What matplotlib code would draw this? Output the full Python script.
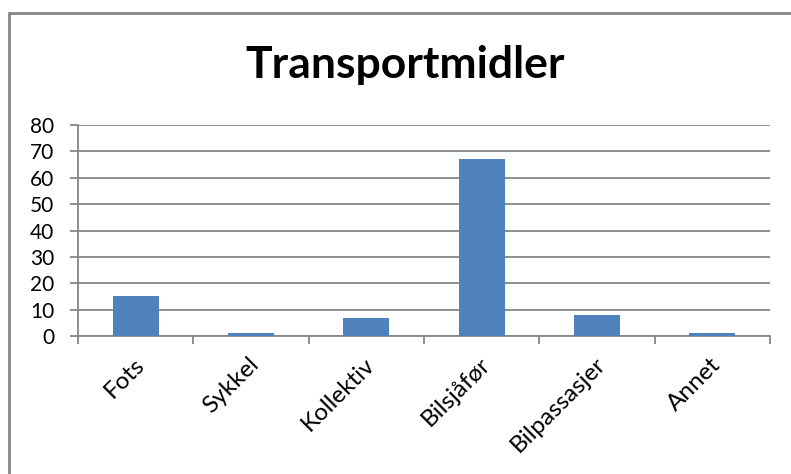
import numpy as np
import matplotlib.pyplot as plt
import matplotlib.transforms as mtransforms
from matplotlib.patches import Rectangle

# Transportmidler - values
kategorier = ["Fots", "Sykkel", "Kollektiv", "Bilsjåfør", "Bilpassasjer", "Annet"]
verdier = [15, 1, 7, 67, 8, 1]
y_ticks = [0, 10, 20, 30, 40, 50, 60, 70, 80]

plt.rcParams["font.family"] = ["Lato", "DejaVu Sans"]
grey = "#868686"

fig = plt.figure(figsize=(7.91, 4.74), dpi=100)
ax = fig.add_axes([0.0986, 0.2911, 0.8749, 0.4452])

x = np.arange(len(kategorier))
ax.bar(x, verdier, width=0.4, color="#4F81BD", zorder=3)

ax.set_xlim(-0.5, len(kategorier) - 0.5)
ax.set_ylim(0, 80)
ax.set_yticks(y_ticks)
ax.set_yticklabels([str(v) for v in y_ticks], fontsize=15)
ax.yaxis.grid(True, color=grey, linewidth=1.3, zorder=0)

# ticks between categories, labels at centre
ax.set_xticks(np.arange(-0.5, len(kategorier), 1.0))
ax.set_xticklabels([])
ax.set_xticks(x, minor=True)
ax.set_xticklabels(kategorier, minor=True, rotation=45, ha="right", va="center",
                   rotation_mode="anchor", fontsize=17.5)
ax.tick_params(axis="x", which="minor", length=0, pad=18)
ax.tick_params(axis="x", which="major", length=6, width=1.3, color=grey)
ax.tick_params(axis="y", length=6, width=1.3, color=grey, pad=11)

# nudge rotated labels a little to the right
offset = mtransforms.ScaledTranslation(5 / 100, 0, fig.dpi_scale_trans)
for lbl in ax.get_xticklabels(minor=True):
    lbl.set_transform(lbl.get_transform() + offset)

for s in ["top", "right"]:
    ax.spines[s].set_visible(False)
for s in ["left", "bottom"]:
    ax.spines[s].set_color(grey)
    ax.spines[s].set_linewidth(1.3)

fig.text(0.512, 0.863, "Transportmidler", ha="center", va="center",
         fontsize=32, fontweight="bold")

# chart border
fig.patches.append(Rectangle((8.5 / 791, -0.1), 1.2, 1 - 13 / 474 + 0.1,
                             transform=fig.transFigure, fill=False,
                             edgecolor=grey, linewidth=2))

fig.savefig("out.png", dpi=100)
